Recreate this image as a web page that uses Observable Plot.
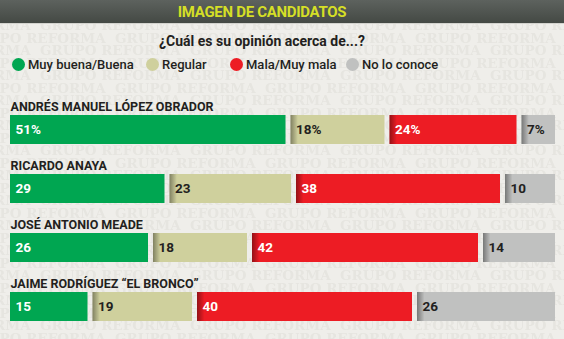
<!DOCTYPE html>
<html><head><meta charset="utf-8">
<script src="https://cdn.jsdelivr.net/npm/d3@7"></script>
<script src="https://cdn.jsdelivr.net/npm/@observablehq/plot@0.6"></script>
<style>
html,body{margin:0;padding:0;}
body{width:564px;height:339px;overflow:hidden;background-color:#efeeea;position:relative;font-family:Roboto,"Noto Sans",sans-serif;color:#231f20;}
#title{position:absolute;left:0;top:0;width:564px;height:23px;background:linear-gradient(#5d625e,#444944);border-bottom:1px solid #d3d3ce;}
#title span{position:absolute;left:0;width:524px;text-align:center;top:3px;font-weight:bold;font-size:15px;letter-spacing:-0.3px;color:#d5df26;}
#sub{position:absolute;top:33px;left:0;width:524px;text-align:center;font-weight:bold;font-size:14px;}
.item{position:absolute;top:58px;height:14px;font-size:13px;font-weight:500;line-height:14px;white-space:nowrap;}
.item i{position:absolute;left:0;top:0;width:13px;height:13px;border-radius:50%;}
.item span{position:absolute;top:0;}
#chart{position:absolute;left:0;top:90px;}
</style></head>
<body>
<div id="title"><span>IMAGEN DE CANDIDATOS</span></div>
<div id="sub">¿Cuál es su opinión acerca de...?</div>
<div id="legend"></div>
<div id="chart"></div>
<script>
const candidates = ["ANDRÉS MANUEL LÓPEZ OBRADOR", "RICARDO ANAYA", "JOSÉ ANTONIO MEADE", "JAIME RODRÍGUEZ “EL BRONCO”"];
const categories = ["Muy buena/Buena", "Regular", "Mala/Muy mala", "No lo conoce"];
const buena = [51, 29, 26, 15];
const regular = [18, 23, 18, 19];
const mala = [24, 38, 42, 40];
const noConoce = [7, 10, 14, 26];
const suffix = ["%", "", "", ""];
const colors = ["#00a651", "#cfd09d", "#ed1c24", "#c0c1c0"];
const labelColors = ["#ffffff", "#231f20", "#ffffff", "#231f20"];

// decorative background watermark, drawn as a tiled background image
const wmText = "GRUPO REFORMA";
const tile = `<svg xmlns="http://www.w3.org/2000/svg" width="150" height="25">
<g font-family="DejaVu Serif" font-weight="bold" font-size="13.5" fill="#e6e5e0">
<text x="40" y="5">${wmText}</text><text x="-110" y="5">${wmText}</text>
<text x="40" y="30">${wmText}</text><text x="-110" y="30">${wmText}</text>
<text x="115" y="17.5">${wmText}</text><text x="-35" y="17.5">${wmText}</text>
</g></svg>`;
document.body.style.backgroundImage = `url("data:image/svg+xml,${encodeURIComponent(tile)}")`;
document.body.style.backgroundRepeat = "repeat";

// legend
const legendLeft = [11.5, 145.5, 229.5, 345.5];
const legend = document.getElementById("legend");
categories.forEach((c, j) => {
  const it = document.createElement("div");
  it.className = "item";
  it.style.left = legendLeft[j] + "px";
  it.innerHTML = `<i style="background:${colors[j]}"></i><span style="left:16.5px">${c}</span>`;
  legend.appendChild(it);
});

const series = [buena, regular, mala, noConoce];
const rows = [];
candidates.forEach((name, i) => {
  let start = 0;
  series.forEach((s, j) => {
    rows.push({name, cat: categories[j], j, value: s[i], start, label: s[i] + suffix[i]});
    start += s[i];
  });
});
const shade = rows.filter(d => d.j > 0);

const chart = Plot.plot({
  width: 564, height: 249,
  marginLeft: 7.5, marginRight: 6.5, marginTop: 25, marginBottom: 18,
  x: {domain: [0, 100], axis: null},
  y: {domain: candidates, axis: null, paddingInner: 30 / 59, paddingOuter: 0},
  color: {domain: categories, range: colors},
  style: {background: "transparent", overflow: "visible"},
  marks: [
    Plot.barX(rows, Plot.stackX({x: "value", y: "name", fill: "cat", insetLeft: 2.5, insetRight: 2.5})),
    Plot.barX(shade, {x1: "start", x2: d => d.start + 1.8, y: "name", fill: "url(#shade)", insetLeft: 2.5}),
    ...labelColors.map((col, j) => Plot.text(rows.filter(d => d.j === j), {
      x: "start", y: "name", text: "label", textAnchor: "start", dx: 7.5,
      fill: col, fontWeight: "bold", fontSize: 13.5
    })),
    Plot.text(candidates, {x: 0, y: d => d, text: d => d, textAnchor: "start", lineAnchor: "bottom",
      dx: 2.5, dy: -19.5, fill: "#231f20", fontWeight: "bold", fontSize: 12.5})
  ]
});
const ns = "http://www.w3.org/2000/svg";
const defs = document.createElementNS(ns, "defs");
defs.innerHTML = `<linearGradient id="shade" x1="0" x2="1" y1="0" y2="0">
<stop offset="0" stop-color="#000" stop-opacity="0.38"/><stop offset="1" stop-color="#000" stop-opacity="0"/></linearGradient>`;
chart.insertBefore(defs, chart.firstChild);
chart.style.fontFamily = "Roboto, 'Noto Sans', sans-serif";
document.getElementById("chart").appendChild(chart);
</script>
</body></html>
